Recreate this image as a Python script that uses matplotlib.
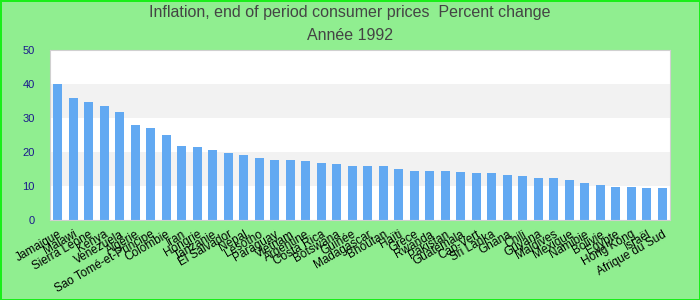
import matplotlib
matplotlib.use('Agg')
import matplotlib.pyplot as plt
import numpy as np

countries = ['Jamaique', 'Malawi', 'Sierra Leone', 'Kenya', 'Venezuela', 'Algérie',
             'Sao Tomé-et-Principe', 'Colombie', 'Iran', 'Hongrie', 'Tanzanie',
             'El Salvador', 'Népal', 'Lesotho', 'Paraguay', 'Vietnam', 'Argentine',
             'Costa Rica', 'Botswana', 'Guinée', 'Madagascar', 'Bhoutan', 'Haïti',
             'Grèce', 'Rwanda', 'Pakistan', 'Guatemala', 'Cap-Vert', 'Sri Lanka',
             'Ghana', 'Chili', 'Guyana', 'Maldives', 'Mexique', 'Namibie', 'Bolivie',
             'Egypte', 'Hong Kong', 'Israël', 'Afrique du Sud']
inflation = [40.0, 35.9, 34.7, 33.5, 31.8, 27.9, 27.1, 25.0, 21.8, 21.5,
             20.6, 19.7, 19.1, 18.2, 17.6, 17.6, 17.4, 16.8, 16.5, 15.9,
             15.9, 15.9, 15.0, 14.4, 14.4, 14.4, 14.1, 13.8, 13.8, 13.2,
             12.9, 12.4, 12.4, 11.8, 10.9, 10.3, 9.7, 9.7, 9.4, 9.4]
yticks = [0, 10, 20, 30, 40, 50]

plt.rcParams['font.family'] = ['Liberation Sans', 'DejaVu Sans']

fig = plt.figure(figsize=(7, 3), dpi=100, facecolor='#90ee90')
fig.patch.set_edgecolor('#1aee1a')
fig.patch.set_linewidth(2)
ax = fig.add_axes([50/700, 80/300, 620/700, 170/300])

# alternating bands
for lo in range(0, 50, 10):
    if (lo // 10) % 2 == 1:
        ax.axhspan(lo, lo + 10, color='#f2f2f2', zorder=0, lw=0)

x = np.arange(len(countries))
ax.bar(x, inflation, width=0.58, color='#62a9f2', zorder=2)

ax.set_xlim(-0.5, len(countries) - 0.5)
ax.set_ylim(0, 50)
ax.set_yticks(yticks)
ax.tick_params(axis='y', length=0, labelsize=8, labelcolor='#1a1a8c', pad=11)
ax.set_xticks(x)
ax.set_xticklabels(countries, rotation=30, ha='right', rotation_mode='anchor', fontsize=8.5)
ax.tick_params(axis='x', length=0, pad=6)
for s in ax.spines.values():
    s.set_color('#d0d0d0')

fig.text(0.5, 1 - 13/300, 'Inflation, end of period consumer prices  Percent change',
         ha='center', va='center', fontsize=11.5, color='#444444')
fig.text(0.5, 1 - 36/300, 'Année 1992', ha='center', va='center', fontsize=11.5, color='#444444')

plt.savefig('out.png', facecolor=fig.get_facecolor(), edgecolor=fig.patch.get_edgecolor())
